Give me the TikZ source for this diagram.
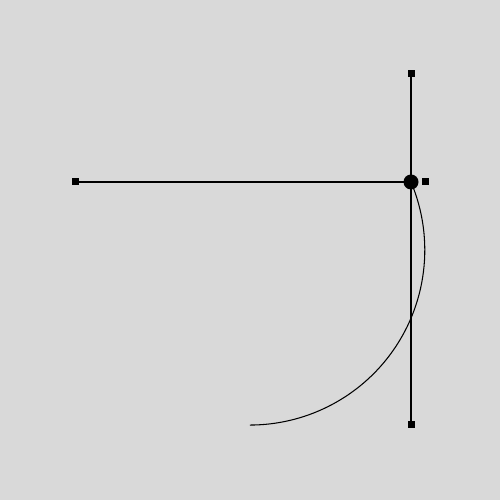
\documentclass[tikz,border=0pt]{standalone}
\definecolor{bg}{HTML}{D9D9D9}
\begin{document}
\begin{tikzpicture}[x=0.02cm,y=0.02cm,
  marker/.style={fill=black,draw=none,minimum size=0.14cm,inner sep=0pt,outer sep=0pt,rectangle},
  bigdot/.style={fill=black,draw=none,circle,minimum size=0.3cm,inner sep=0pt},
  ln/.style={line width=0.6pt,black}]
\fill[bg] (0,0) rectangle (500,500);
\useasboundingbox (0,0) rectangle (500,500);
\coordinate (D) at (411,318);
\node[marker] (L) at (75,318) {};
\node[marker] (R) at (425,318) {};
\node[marker] (T) at (411,426) {};
\node[marker] (B) at (411,75) {};
\draw[ln] (L.center) -- (D);
\draw[ln] (T.center) -- (B.center);
\draw[ln] (D) arc[start angle=22.9, end angle=-90, radius=3.5cm] coordinate (E);
\node[bigdot] (Dot) at (D) {};
\end{tikzpicture}
\end{document}
